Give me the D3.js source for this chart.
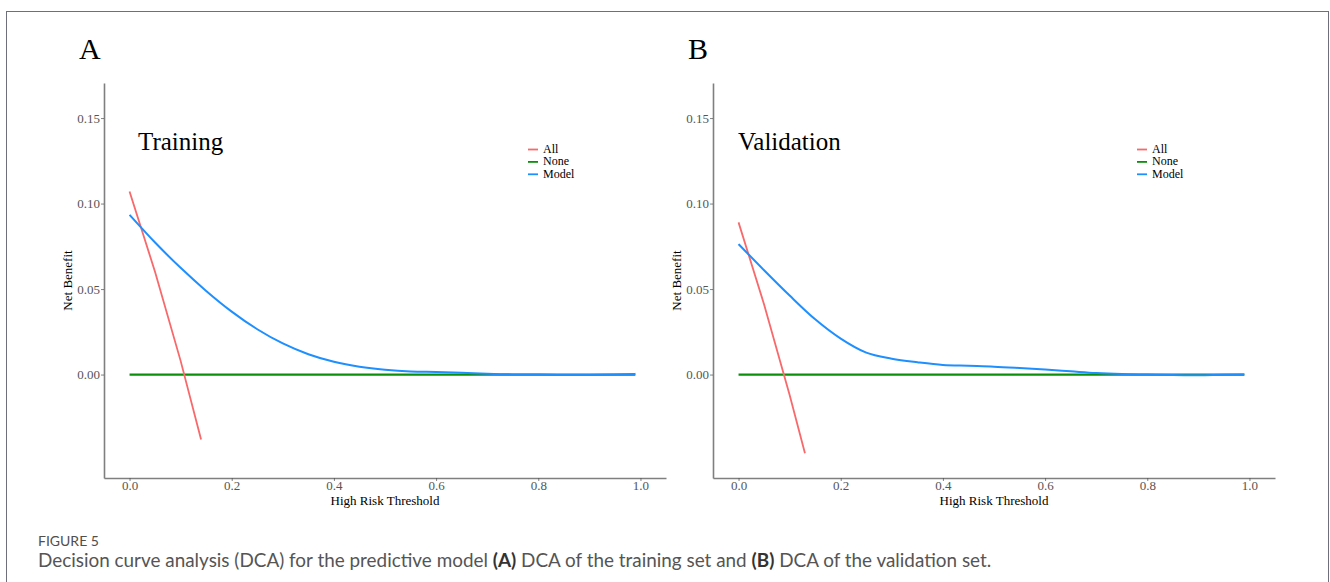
<!DOCTYPE html>
<html>
<head>
<meta charset="utf-8">
<script src="https://cdn.jsdelivr.net/npm/d3@7"></script>
<style>
  body { margin: 0; background: #fff; }
  svg { display: block; }
</style>
</head>
<body>
<div id="chart"></div>
<script>
// thresholds and net benefit values
var thresholds = [0, 0.05, 0.1, 0.15, 0.2, 0.25, 0.3, 0.35, 0.4, 0.45, 0.5, 0.55, 0.6, 0.65, 0.7, 0.75, 0.8, 0.85, 0.9, 0.95, 0.99];
var trainModel = [0.0934, 0.0772, 0.0624, 0.0489, 0.0368, 0.0265, 0.0182, 0.0119, 0.0075, 0.0046, 0.0028, 0.0018, 0.0015, 0.0011, 0.0005, 0.0001, 0.0, -0.0002, -0.0002, 0.0, 0.0004];
var validModel = [0.0763, 0.0610, 0.0462, 0.0323, 0.0210, 0.0128, 0.0093, 0.0072, 0.0056, 0.0051, 0.0046, 0.0038, 0.0029, 0.0019, 0.0009, 0.0003, 0.0, -0.0003, -0.0004, -0.0001, 0.0];

var trainAllX = [0, 0.05, 0.1, 0.14];
var trainAll = [0.107, 0.060, 0.008, -0.038];
var validAllX = [0, 0.05, 0.1, 0.13];
var validAll = [0.089, 0.041, -0.012, -0.046];

var noneX = [0, 0.99];
var noneY = [0, 0];

var xTicks = [0, 0.2, 0.4, 0.6, 0.8, 1.0];
var yTicks = [0, 0.05, 0.10, 0.15];
var legendLabels = ["All", "None", "Model"];
var legendColors = ["#f8696b", "#0b8f0b", "#1e8fff"];

var W = 1330, H = 582;
var svg = d3.select("#chart").append("svg")
    .attr("width", W)
    .attr("height", H);

svg.append("rect")
    .attr("x", 6.5).attr("y", 11.5)
    .attr("width", 1322).attr("height", 620)
    .attr("fill", "#fff")
    .attr("stroke", "#6d6f7a")
    .attr("stroke-width", 1);

var serif = "'Liberation Serif', 'Times New Roman', serif";

function drawPanel(offsetX, letter, title, titleX, modelY, allX, allY) {
    var g = svg.append("g").attr("transform", "translate(" + offsetX + ",0)");

    var x = d3.scaleLinear().domain([-0.05, 1.05]).range([104, 666]);
    var y = d3.scaleLinear().domain([-0.0605, 0.1705]).range([478, 83]);

    // axes
    var yAxis = g.append("g")
        .attr("transform", "translate(104,0)")
        .call(d3.axisLeft(y).tickValues(yTicks).tickFormat(d3.format(".2f")).tickSize(3).tickSizeOuter(0).tickPadding(1));
    var xAxis = g.append("g")
        .attr("transform", "translate(0,478)")
        .call(d3.axisBottom(x).tickValues(xTicks).tickFormat(d3.format(".1f")).tickSize(3).tickSizeOuter(0).tickPadding(0));

    [xAxis, yAxis].forEach(function (a) {
        a.select(".domain").attr("stroke", "#7f7f7f").attr("stroke-width", 1.6);
        a.selectAll(".tick line").attr("stroke", "#4d4d4d").attr("stroke-width", 0.7);
        a.selectAll(".tick text")
            .attr("fill", "#555")
            .style("font-family", serif)
            .style("font-size", "13px");
    });

    // axis titles
    g.append("text")
        .attr("transform", "translate(72,280.5) rotate(-90)")
        .attr("text-anchor", "middle")
        .style("font-family", serif)
        .style("font-size", "13px")
        .text("Net Benefit");
    g.append("text")
        .attr("x", 385).attr("y", 505)
        .attr("text-anchor", "middle")
        .style("font-family", serif)
        .style("font-size", "13px")
        .text("High Risk Threshold");

    // lines
    var line = d3.line()
        .x(function (d) { return x(d[0]); })
        .y(function (d) { return y(d[1]); });

    g.append("path")
        .datum(d3.zip(noneX, noneY))
        .attr("d", line)
        .attr("fill", "none")
        .attr("stroke", legendColors[1])
        .attr("stroke-width", 2.2);

    g.append("path")
        .datum(d3.zip(allX, allY))
        .attr("d", line)
        .attr("fill", "none")
        .attr("stroke", legendColors[0])
        .attr("stroke-width", 1.8);

    g.append("path")
        .datum(d3.zip(thresholds, modelY))
        .attr("d", line.curve(d3.curveMonotoneX))
        .attr("fill", "none")
        .attr("stroke", legendColors[2])
        .attr("stroke-width", 2);

    // legend
    var leg = g.selectAll(".leg")
        .data(legendLabels)
        .enter().append("g")
        .attr("class", "leg")
        .attr("transform", function (d, i) { return "translate(528," + (149.5 + i * 12.4) + ")"; });
    leg.append("line")
        .attr("x1", 0).attr("x2", 10)
        .attr("stroke", function (d, i) { return legendColors[i]; })
        .attr("stroke-width", 1.8);
    leg.append("text")
        .attr("x", 15).attr("y", 3.5)
        .style("font-family", serif)
        .style("font-size", "12px")
        .text(function (d) { return d; });

    // panel letter and title
    g.append("text")
        .attr("x", 79).attr("y", 59)
        .style("font-family", serif)
        .style("font-size", "30px")
        .text(letter);
    g.append("text")
        .attr("x", titleX).attr("y", 150)
        .style("font-family", serif)
        .style("font-size", "25px")
        .text(title);
}

drawPanel(0, "A", "Training", 138, trainModel, trainAllX, trainAll);
drawPanel(609, "B", "Validation", 129, validModel, validAllX, validAll);

// caption
var sans = "Lato, 'Open Sans', sans-serif";
svg.append("text")
    .attr("x", 38).attr("y", 546)
    .attr("fill", "#4f4f4f")
    .style("font-family", sans)
    .style("font-size", "14px")
    .text("FIGURE 5");

var cap = svg.append("text")
    .attr("x", 38).attr("y", 567)
    .attr("fill", "#555")
    .style("font-family", sans)
    .style("font-size", "18.9px");
cap.append("tspan").text("Decision curve analysis (DCA) for the predictive model ");
cap.append("tspan").style("font-weight", "bold").attr("fill", "#333").text("(A)");
cap.append("tspan").text(" DCA of the training set and ");
cap.append("tspan").style("font-weight", "bold").attr("fill", "#333").text("(B)");
cap.append("tspan").text(" DCA of the validation set.");
</script>
</body>
</html>
